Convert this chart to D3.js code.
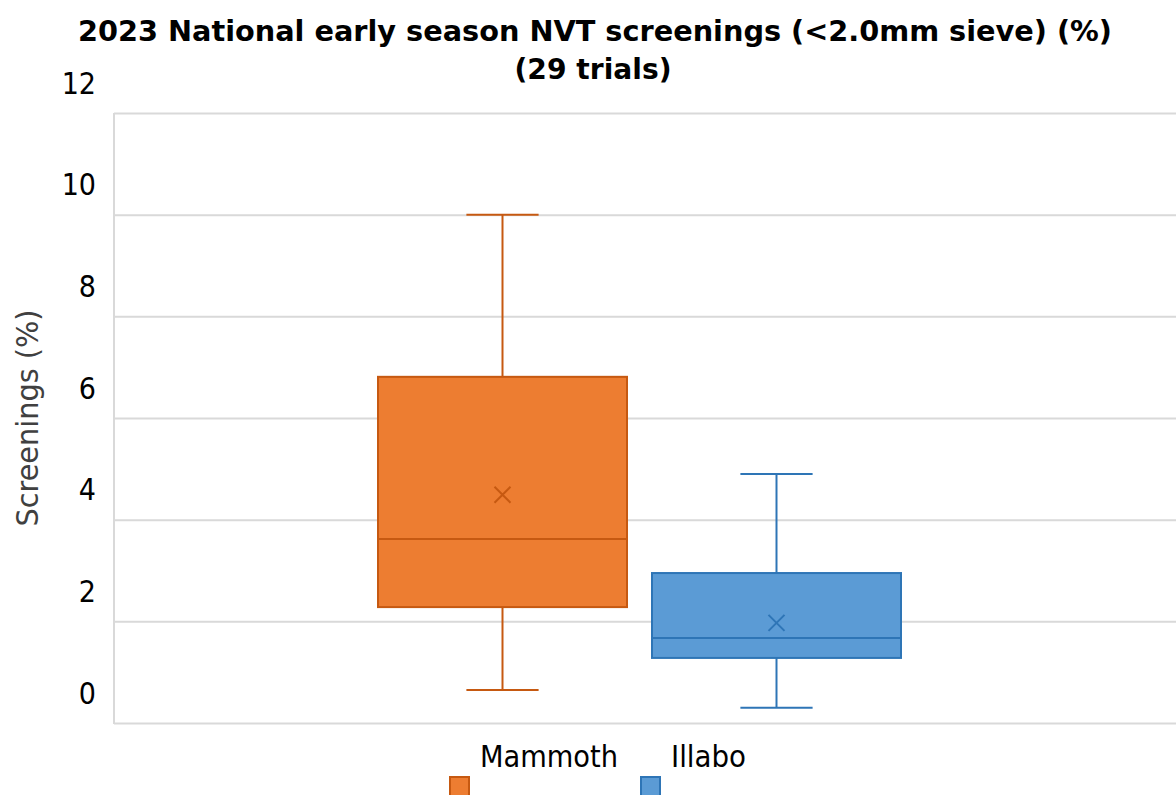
<!DOCTYPE html>
<html>
<head>
<meta charset="utf-8">
<script src="https://cdn.jsdelivr.net/npm/d3@7/dist/d3.min.js"></script>
<style>
  body{margin:0;background:#fff;overflow:hidden;}
  svg text{font-family:"DejaVu Sans Condensed","DejaVu Sans",sans-serif;fill:#000;}
</style>
</head>
<body>
<script>
// values
var varieties=['Mammoth','Illabo'];
var whiskerMin=[0.65,0.30];
var q1=[2.28,1.28];
var median=[3.62,1.67];
var q3=[6.81,2.95];
var whiskerMax=[10.0,4.90];
var mean=[4.49,1.97];
var yTicks=[0,2,4,6,8,10,12];
var fills=['#ED7D31','#5B9BD5'];
var strokes=['#C65911','#2E75B6'];

var W=1176,H=795;
var plot={left:114,right:1180,top:113,bottom:723};

var svg=d3.select('body').append('svg').attr('width',W).attr('height',H);

var y=d3.scaleLinear().domain([0,12]).range([plot.bottom,plot.top]);
var x=d3.scaleBand().domain(varieties).range([378,901]).paddingInner(25/274).paddingOuter(0);

// gridlines
svg.append('g').selectAll('line').data(yTicks).enter().append('line')
  .attr('x1',plot.left).attr('x2',plot.right)
  .attr('y1',function(d){return y(d)+0.5;}).attr('y2',function(d){return y(d)+0.5;})
  .attr('stroke','#d9d9d9').attr('stroke-width',2);
svg.append('line')
  .attr('x1',plot.left).attr('x2',plot.left)
  .attr('y1',plot.top).attr('y2',plot.bottom+1)
  .attr('stroke','#d9d9d9').attr('stroke-width',2);

// tick labels (sit ~30px above their gridlines like in the original)
svg.append('g').selectAll('text').data(yTicks).enter().append('text')
  .attr('x',96).attr('y',function(d){return y(d)-30;})
  .attr('text-anchor','end').attr('dominant-baseline','central')
  .style('font-size','30px')
  .text(function(d){return d;});

// axis title
svg.append('text')
  .attr('transform','translate(27,418) rotate(-90)')
  .attr('text-anchor','middle').attr('dominant-baseline','central')
  .attr('textLength',217).attr('lengthAdjust','spacingAndGlyphs')
  .style('font-size','30px').style('fill','#404040')
  .text('Screenings (%)');

// title
svg.append('text').attr('x',595).attr('y',41).attr('text-anchor','middle')
  .attr('textLength',1034).attr('lengthAdjust','spacingAndGlyphs')
  .style('font-size','29px').style('font-weight','bold')
  .text('2023 National early season NVT screenings (<2.0mm sieve) (%)');
svg.append('text').attr('x',593).attr('y',79).attr('text-anchor','middle')
  .attr('textLength',157).attr('lengthAdjust','spacingAndGlyphs')
  .style('font-size','29px').style('font-weight','bold')
  .text('(29 trials)');

// boxes
var bw=x.bandwidth();
var capW=bw*0.29;
var g=svg.append('g').selectAll('g').data(varieties).enter().append('g');
g.each(function(name,i){
  var s=d3.select(this);
  var cx=x(name)+bw/2;
  s.append('line').attr('x1',cx).attr('x2',cx).attr('y1',y(whiskerMax[i])).attr('y2',y(q3[i]))
    .attr('stroke',strokes[i]).attr('stroke-width',2);
  s.append('line').attr('x1',cx).attr('x2',cx).attr('y1',y(q1[i])).attr('y2',y(whiskerMin[i]))
    .attr('stroke',strokes[i]).attr('stroke-width',2);
  s.append('line').attr('x1',cx-capW/2).attr('x2',cx+capW/2).attr('y1',y(whiskerMax[i])).attr('y2',y(whiskerMax[i]))
    .attr('stroke',strokes[i]).attr('stroke-width',2);
  s.append('line').attr('x1',cx-capW/2).attr('x2',cx+capW/2).attr('y1',y(whiskerMin[i])).attr('y2',y(whiskerMin[i]))
    .attr('stroke',strokes[i]).attr('stroke-width',2);
  s.append('rect').attr('x',x(name)).attr('width',bw)
    .attr('y',y(q3[i])).attr('height',y(q1[i])-y(q3[i]))
    .attr('fill',fills[i]).attr('stroke',strokes[i]).attr('stroke-width',2);
  s.append('line').attr('x1',x(name)).attr('x2',x(name)+bw).attr('y1',y(median[i])).attr('y2',y(median[i]))
    .attr('stroke',strokes[i]).attr('stroke-width',2);
  var m=8,my=y(mean[i]);
  s.append('path').attr('d','M'+(cx-m)+','+(my-m)+'L'+(cx+m)+','+(my+m)+'M'+(cx+m)+','+(my-m)+'L'+(cx-m)+','+(my+m))
    .attr('stroke',strokes[i]).attr('stroke-width',2).attr('fill','none');
});

// legend
var legX=[449,640];
var legW=[138,75];
var lg=svg.append('g').selectAll('g').data(varieties).enter().append('g');
lg.append('rect').attr('x',function(d,i){return legX[i]+1;}).attr('y',777)
  .attr('width',19).attr('height',19)
  .attr('fill',function(d,i){return fills[i];}).attr('stroke',function(d,i){return strokes[i];}).attr('stroke-width',2);
lg.append('text').attr('x',function(d,i){return legX[i]+31;}).attr('y',756)
  .attr('dominant-baseline','central').style('font-size','30px')
  .attr('textLength',function(d,i){return legW[i];}).attr('lengthAdjust','spacingAndGlyphs')
  .text(function(d){return d;});
</script>
</body>
</html>
